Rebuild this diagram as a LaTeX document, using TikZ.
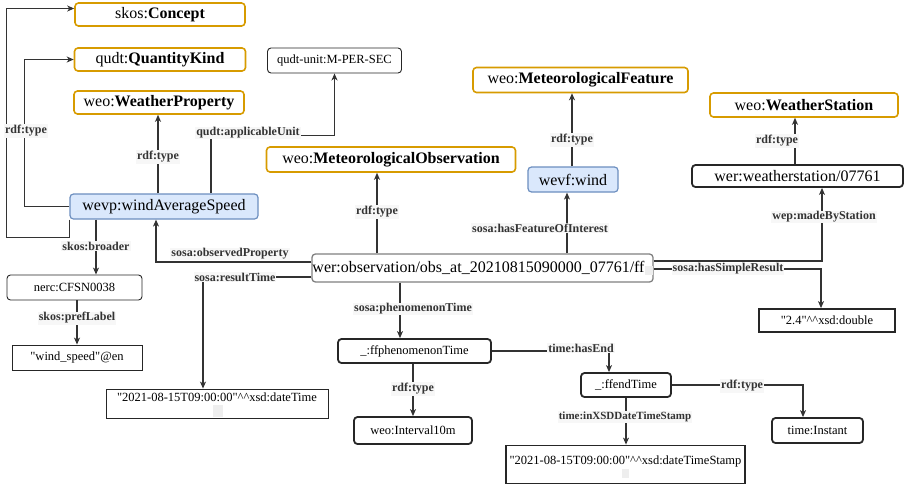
\documentclass[tikz,border=0pt]{standalone}
\usepackage{fontspec}
\setmainfont{Liberation Serif}[Ligatures=TeXOff]
\usetikzlibrary{arrows.meta}

\definecolor{orangeline}{HTML}{D79B00}
\definecolor{bluefill}{HTML}{DAE8FC}
\definecolor{blueline}{HTML}{6C8EBF}
\definecolor{edgegray}{HTML}{333333}
\definecolor{obsline}{HTML}{808080}
\definecolor{lblfill}{HTML}{F7F7F7}
\definecolor{cellgray}{HTML}{EEEEEE}

% straight double quote and an empty grey cell
\newcommand{\sq}{\symbol{34}}
\newcommand{\emptycell}{\textcolor{cellgray}{\rule[-2pt]{8pt}{9pt}}}

\tikzset{
  base/.style={rounded corners=3.5pt, inner sep=0.5pt, align=center},
  classbox/.style={base, draw=orangeline, line width=1.6pt, fill=white,
    font=\fontsize{16}{18}\selectfont},
  resbox/.style={base, draw=blueline, line width=1.2pt, fill=bluefill,
    font=\fontsize{16}{18}\selectfont},
  obsbox/.style={base, draw=obsline, line width=1.3pt, fill=white,
    font=\fontsize{16}{18}\selectfont},
  thinbox/.style={base, draw=black!85, line width=0.9pt, fill=white,
    font=\fontsize{12.5}{14}\selectfont},
  thickbox/.style={base, draw=black!85, line width=1.8pt, fill=white,
    font=\fontsize{12.5}{14}\selectfont},
  litbox/.style={draw=black!85, sharp corners, inner sep=0.5pt, fill=white,
    font=\fontsize{12.5}{14}\selectfont},
  conn/.style={draw=edgegray, line width=1.1pt,
    -{Stealth[length=7pt,width=6pt,inset=2pt]}},
  lbl/.style={font=\fontsize{12}{13}\selectfont\bfseries, text=edgegray,
    fill=lblfill, inner sep=1pt},
  smalllbl/.style={lbl, font=\fontsize{11}{12}\selectfont\bfseries},
}

\begin{document}
\begin{tikzpicture}[x=1pt, y=-1pt]
\useasboundingbox (0,0) rectangle (905,488);

% classes
\node[classbox, minimum width=170pt, minimum height=23pt] (concept) at (160,14.5) {skos:\textbf{Concept}};
\node[classbox, minimum width=171pt, minimum height=23pt] (qkind) at (160,59.5) {qudt:\textbf{QuantityKind}};
\node[classbox, minimum width=170pt, minimum height=23pt] (wprop) at (159,102.5) {weo:\textbf{WeatherProperty}};
\node[classbox, minimum width=249pt, minimum height=25pt] (mobs) at (391,159.5) {weo:\textbf{MeteorologicalObservation}};
\node[classbox, minimum width=215pt, minimum height=25pt] (mfeat) at (580.5,80) {weo:\textbf{MeteorologicalFeature}};
\node[classbox, minimum width=188pt, minimum height=24pt] (wstation) at (804,105) {weo:\textbf{WeatherStation}};

% resources
\node[thinbox, minimum width=134pt, minimum height=25pt] (unit) at (334.5,60.5) {qudt-unit:M-PER-SEC};
\node[resbox, minimum width=188pt, minimum height=25pt] (speed) at (164,206.5) {wevp:windAverageSpeed};
\node[resbox, minimum width=90pt, minimum height=25pt] (wind) at (573,179.5) {wevf:wind};
\node[thickbox, minimum width=211pt, minimum height=22pt, font=\fontsize{16}{18}\selectfont] (station) at (797.5,176) {wer:weatherstation/07761};
\node[obsbox, minimum width=341pt, minimum height=28pt] (obs) at (482.5,268) {wer:observation/obs\_at\_20210815090000\_07761/ff\emptycell};
\node[thinbox, minimum width=135pt, minimum height=25pt] (nerc) at (74.5,287.5) {nerc:CFSN0038};
\node[litbox, line width=0.9pt, minimum width=130pt, minimum height=25pt] (wsp) at (77,357.5) {\sq wind\_speed\sq @en};
\node[litbox, line width=0.9pt, minimum width=222pt, text height=12pt, text depth=16pt] (dt) at (217,403.5) {\sq 2021-08-15T09:00:00\sq\textasciicircum\textasciicircum xsd:dateTime};
\node[thickbox, minimum width=153pt, minimum height=24pt] (phen) at (414.5,351) {\_:ffphenomenonTime};
\node[thickbox, minimum width=118pt, minimum height=27pt] (intv) at (413,430.5) {weo:Interval10m};
\node[thickbox, minimum width=90pt, minimum height=24pt] (endt) at (626,385) {\_:ffendTime};
\node[thickbox, minimum width=91pt, minimum height=25pt] (inst) at (817.5,430.5) {time:Instant};
\node[litbox, line width=1.8pt, minimum width=136pt, minimum height=23pt] (dbl) at (827,320.5) {\sq 2.4\sq\textasciicircum\textasciicircum xsd:double};
\node[litbox, line width=1.8pt, minimum width=239pt, text height=18pt, text depth=19pt] (dts) at (625.5,464.5) {\sq 2021-08-15T09:00:00\sq\textasciicircum\textasciicircum xsd:dateTimeStamp};

% empty grey cells under the literal values
\fill[cellgray] (213,405) rectangle (223,417);
\fill[cellgray] (622,469) rectangle (629,478);

% connectors
\draw[conn] (speed.south west) -- ++(0,18) -- ++(-63,0) |- ([yshift=6pt]concept.west);
\draw[conn] (speed.west) -- ++(-45,0) |- (qkind.west)
  node[lbl] at (26,131) {rdf:type};
\draw[conn] ([xshift=-6pt]speed.north) -- ([xshift=-6pt]speed.north |- wprop.south)
  node[lbl] at (158,157) {rdf:type};
\draw[conn] ([xshift=47pt]speed.north) -- ++(0,-58) -| (unit.south)
  node[lbl] at (248,133) {qudt:applicableUnit};
\draw[conn] ([yshift=6pt]obs.west) -| ([xshift=-8pt]speed.south)
  node[lbl] at (230,254) {sosa:observedProperty};
\draw[conn] ([yshift=-9pt]obs.west) -| ([xshift=-14pt]dt.north)
  node[lbl] at (235,277) {sosa:resultTime};
\draw[conn] (obs.north -| 377,0) -- (mobs.south -| 377,0)
  node[lbl] at (377,212) {rdf:type};
\draw[conn] (obs.north -| 567,0) -- (wind.south -| 567,0)
  node[lbl] at (540,228) {sosa:hasFeatureOfInterest};
\draw[conn] ([yshift=7pt]obs.east) -| (station.south -| 822,0)
  node[lbl] at (824,217) {wep:madeByStation};
\draw[conn] ([yshift=-1pt]obs.east) -| ([xshift=-6pt]dbl.north)
  node[lbl] at (728,269) {sosa:hasSimpleResult};
\draw[conn] (obs.south -| 400,0) -- (phen.north -| 400,0)
  node[lbl] at (413,309) {sosa:phenomenonTime};
\draw[conn] (phen.south -| 413,0) -- (intv.north -| 413,0)
  node[lbl] at (413,389) {rdf:type};
\draw[conn] (phen.east) -| (endt.north -| 609,0)
  node[lbl] at (581,348) {time:hasEnd};
\draw[conn] (endt.east) -| (inst.north -| 803,0)
  node[lbl] at (742,386) {rdf:type};
\draw[conn] (endt.south -| 626,0) -- (dts.north -| 626,0)
  node[smalllbl] at (625,417) {time:inXSDDateTimeStamp};
\draw[conn] (wind.north -| 572,0) -- (mfeat.south -| 572,0)
  node[lbl] at (572,140) {rdf:type};
\draw[conn] (station.north -| 795,0) -- (wstation.south -| 795,0)
  node[lbl] at (777,141) {rdf:type};
\draw[conn] (speed.south -| 96,0) -- (nerc.north -| 96,0)
  node[lbl] at (96,246) {skos:broader};
\draw[conn] (nerc.south -| 77,0) -- (wsp.north -| 77,0)
  node[lbl] at (77,318) {skos:prefLabel};
\end{tikzpicture}
\end{document}
